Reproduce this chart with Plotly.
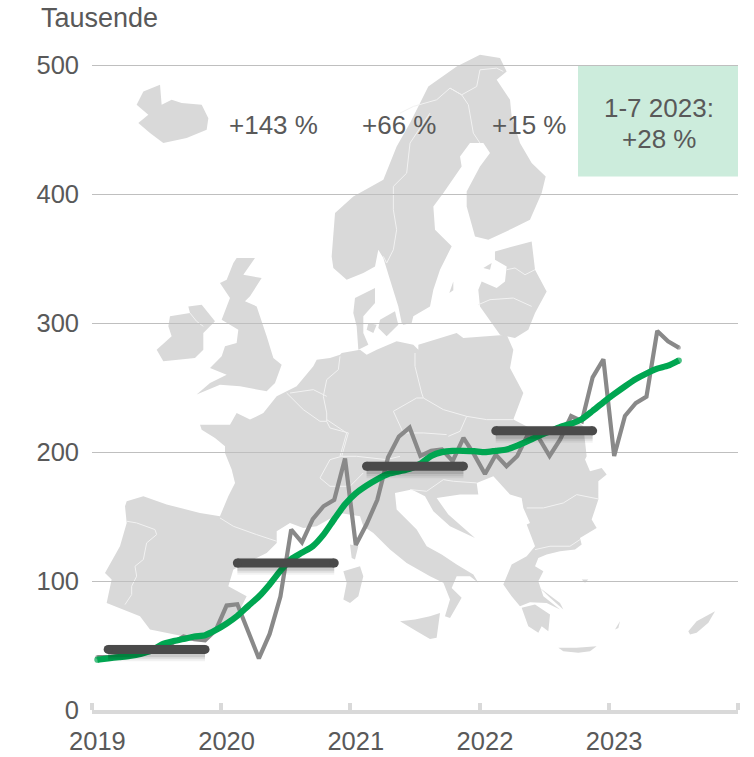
import plotly.graph_objects as go

# ---------- data ----------
year_labels = ["2019", "2020", "2021", "2022", "2023"]
year_start_index = [0, 12, 24, 36, 48]
year_edges = [-0.5, 11.5, 23.5, 35.5, 47.5, 59.5]
monthly_values = [41, 41, 42, 43, 44, 45, 47, 52, 57, 55, 54, 62,
                  81, 82, 61, 40, 59, 88, 140, 130, 148, 158, 163, 195,
                  128, 144, 163, 196, 212, 219, 197, 201, 202, 193, 211, 198,
                  183, 198, 189, 197, 214, 211, 197, 210, 228, 224, 258, 272,
                  197, 228, 238, 243, 294, 286, 281]
rolling_average = [39, 40, 41, 42, 43.5, 46, 51, 53.4, 55, 57, 58, 62,
                   67, 73, 80.6, 88, 97.4, 108, 117, 122, 127, 136, 148, 159.5,
                   168, 174, 179, 183, 185, 187, 191, 197, 200, 201, 201, 200.7,
                   200, 201, 202, 205, 208.7, 212.6, 216, 219.6, 222, 225.6, 232, 238.7,
                   245, 251, 256.6, 261, 264.7, 267, 271]
annual_average = [47, 114, 189, 216.5]
annual_centre = [5.5, 17.5, 29.5, 41.5]
change_labels = ["+143 %", "+66 %", "+15 %"]
y_ticks = [0, 100, 200, 300, 400, 500]

# ---------- page geometry ----------
W, H = 754, 757
L, R, T, B = 92, 738, 64.2, 710.5
px = lambda x: (x - L) / (R - L)
py = lambda y: (B - y) / (B - T)

# ---------- decorative map silhouette (crop coordinates: origin + z/3) ----------
Z1, Z2, Z3, Z4, Z5, Z6, Z7 = (60, 500), (400, 300), (100, 50), (400, 50), (100, 350), (330, 440), (300, 300)


def seg(o, pts):
    return [(o[0] + a / 3, o[1] + b / 3) for a, b in pts]


mainland = (
    seg(Z5, [(80, 455), (130, 440), (200, 465), (300, 490), (360, 500), (385, 440), (405, 400), (395, 360),
             (375, 310), (375, 290), (345, 265), (305, 240), (300, 225), (390, 225), (410, 190), (450, 210),
             (490, 190), (530, 140), (590, 110), (640, 50), (650, 30), (690, 25), (720, 15)])
    + seg(Z7, [(125, 160), (180, 150), (200, 165), (230, 150), (290, 125), (340, 135), (355, 150), (355, 135),
               (470, 100), (490, 115), (620, 105), (640, 150), (630, 205), (670, 280), (640, 360), (700, 390),
               (780, 380), (815, 350), (850, 380), (860, 470)])
    + seg(Z6, [(765, 60), (780, 95), (815, 85), (830, 105), (805, 125), (805, 180), (785, 240), (800, 265),
               (750, 295), (755, 315), (735, 330), (690, 335), (650, 345), (625, 355), (615, 380), (640, 395),
               (625, 425), (640, 470), (690, 510), (650, 490), (600, 488), (570, 500), (545, 470), (520, 435),
               (545, 375), (590, 350), (615, 320), (590, 255), (600, 250), (580, 205), (575, 175), (540, 165),
               (490, 110), (440, 130), (445, 165), (390, 165), (320, 175), (355, 225), (435, 295), (360, 260),
               (310, 215), (285, 170), (245, 150), (195, 160), (200, 210), (260, 270), (290, 320), (335, 345),
               (380, 375), (430, 405), (445, 430), (420, 410), (380, 410), (365, 445), (395, 475), (360, 535),
               (345, 530), (360, 480), (340, 430), (300, 410), (230, 370), (180, 330), (130, 280), (100, 260)])
    + seg(Z5, [(780, 500), (720, 490), (650, 530), (610, 535), (570, 520), (530, 545), (530, 580), (500, 610),
               (400, 660), (385, 710), (440, 740), (410, 800), (340, 845), (250, 860), (150, 840), (120, 800),
               (20, 760), (35, 690), (15, 670), (60, 590), (80, 520), (75, 470)])
)
scandinavia = (
    seg(Z3, [(740, 690), (700, 655), (695, 620), (705, 490), (760, 440), (850, 390), (890, 290), (930, 220), (985, 110)])
    + seg(Z4, [(170, 50), (240, 15), (300, 25), (320, 65), (290, 90), (330, 150), (335, 200), (360, 280), (395, 340),
               (437, 380), (425, 430), (390, 510), (340, 535), (265, 570), (225, 560), (200, 470), (200, 425),
               (240, 350), (270, 310), (250, 280), (210, 280), (180, 320), (185, 350), (130, 430), (100, 470),
               (105, 540), (155, 590), (120, 660), (100, 720), (90, 770), (40, 800), (35, 820), (10, 825)])
    + seg(Z3, [(905, 820), (895, 770), (870, 690), (850, 625), (835, 600), (825, 650), (790, 670)])
)
land = [
    mainland, scandinavia,
    seg(Z3, [(110, 165), (130, 125), (180, 105), (185, 165), (215, 150), (245, 160), (305, 165), (325, 205),
             (320, 240), (260, 265), (190, 280), (150, 250), (115, 220), (145, 195)]),
    seg(Z3, [(210, 800), (270, 790), (265, 770), (305, 765), (345, 815), (310, 850), (310, 900), (285, 925),
             (190, 935), (170, 900), (215, 860), (205, 830)]),
    seg(Z3, [(410, 625), (465, 625), (430, 675), (485, 685), (450, 740), (435, 755), (470, 770), (500, 860),
             (520, 925), (545, 945), (525, 1000), (500, 1025), (420, 1010), (360, 1005), (290, 1035), (330, 1000),
             (380, 975), (330, 955), (365, 920), (375, 890), (410, 880), (415, 840), (365, 810), (390, 745),
             (360, 700), (380, 690), (400, 640)]),
    seg(Z3, [(765, 745), (825, 715), (825, 760), (790, 800), (790, 850), (805, 885), (775, 900), (770, 830), (760, 790)]),
    seg(Z3, [(840, 810), (885, 785), (895, 825), (860, 860), (835, 835)]),
    seg(Z3, [(805, 820), (830, 825), (820, 850), (800, 840)]),
    seg(Z4, [(285, 605), (395, 575), (405, 660), (440, 725), (405, 790), (385, 840), (345, 865), (300, 855), (240, 770),
             (235, 720), (245, 695), (290, 715), (315, 695), (320, 650), (285, 630)]),
    seg(Z4, [(250, 655), (275, 640), (270, 660)]),
    seg(Z4, [(148, 730), (160, 695), (160, 722)]),
    seg(Z6, [(60, 315), (85, 320), (75, 360), (65, 355)]),
    seg(Z6, [(40, 395), (90, 380), (100, 410), (85, 470), (60, 490), (40, 480), (50, 430)]),
    seg(Z6, [(210, 545), (255, 540), (300, 530), (330, 520), (320, 595), (300, 598), (260, 575)]),
    seg(Z6, [(575, 505), (615, 495), (660, 525), (655, 575), (635, 560), (625, 580), (595, 560)]),
    seg(Z6, [(630, 445), (690, 490), (700, 510), (660, 475)]),
    seg(Z6, [(685, 625), (740, 625), (800, 620), (780, 635), (745, 640), (700, 635)]),
    seg(Z6, [(755, 420), (775, 420), (765, 430)]),
    seg(Z2, [(865, 995), (890, 965), (945, 935), (925, 970), (890, 1000), (870, 1005)]),
    seg(Z2, [(645, 990), (660, 965), (655, 985)]),
]
borders = [
    seg(Z5, [(80, 515), (110, 520), (165, 540), (170, 555), (140, 580), (130, 630), (105, 650), (110, 680), (95, 710), (95, 735), (75, 765)]),
    seg(Z5, [(360, 505), (400, 530), (470, 555), (530, 575)]),
    seg(Z5, [(560, 130), (610, 180), (660, 215), (680, 215), (690, 235), (745, 250), (725, 320), (690, 330), (660, 385), (690, 410), (750, 410), (790, 370)]),
    seg(Z5, [(720, 20), (715, 60), (680, 90), (670, 140), (680, 190), (680, 215)]),
    seg(Z5, [(570, 130), (640, 120), (680, 140)]),
    seg(Z5, [(725, 320), (770, 320), (860, 330), (900, 320)]),
    seg(Z7, [(345, 160), (345, 200), (365, 280), (370, 295)]),
    seg(Z7, [(280, 335), (350, 295), (370, 295), (430, 330), (500, 350), (480, 395), (445, 410)]),
    seg(Z7, [(280, 335), (310, 400), (370, 400), (440, 405)]),
    seg(Z7, [(500, 350), (560, 360), (640, 360)]),
    seg(Z7, [(140, 400), (120, 470)]),
    seg(Z7, [(80, 360), (140, 400)]),
    seg(Z6, [(590, 205), (640, 205), (700, 190), (740, 165), (805, 178)]),
    seg(Z6, [(615, 330), (660, 320), (720, 320), (750, 300)]),
    seg(Z6, [(240, 150), (290, 155), (340, 120), (370, 125), (440, 130)]),
    seg(Z3, [(850, 620), (860, 640), (880, 600), (890, 540), (880, 480), (880, 410), (920, 370), (930, 280), (990, 190)]),
    seg(Z4, [(0, 190), (40, 170), (110, 150), (150, 115), (185, 135), (205, 165), (220, 250), (240, 280)]),
    seg(Z4, [(150, 115), (185, 135), (230, 110), (240, 60), (290, 55), (310, 65)]),
    seg(Z4, [(320, 660), (345, 655), (375, 675), (405, 660)]),
    seg(Z4, [(235, 765), (270, 750), (340, 745), (395, 770)]),
    seg(Z3, [(270, 790), (290, 815), (310, 830)]),
]


def to_path(points, close=True):
    coords = [f"{px(x):.4f},{py(y):.4f}" for x, y in points]
    return "M" + " L".join(coords) + (" Z" if close else "")


shapes = [dict(type="path", xref="paper", yref="paper", layer="below", path=to_path(p),
               fillcolor="#D9D9D9", line=dict(width=0)) for p in land]
shapes += [dict(type="path", xref="paper", yref="paper", layer="below", path=to_path(p, False),
                fillcolor="rgba(0,0,0,0)", line=dict(color="#F2F2F2", width=1)) for p in borders]
shapes.append(dict(type="rect", xref="paper", yref="paper", layer="below",
                   x0=px(578), x1=px(738), y0=py(176.7), y1=py(65.5),
                   fillcolor="#CCECDC", line=dict(width=0)))

# ---------- figure ----------
fig = go.Figure()
x_months = list(range(len(monthly_values)))


def ends(size, n):
    return [size] + [0] * (n - 2) + [size]


fig.add_trace(go.Scatter(x=x_months, y=monthly_values, mode="lines+markers", name="Monat",
                         line=dict(color="#898989", width=4.2, shape="linear"),
                         marker=dict(color="#898989", size=ends(4.2, len(x_months)), line=dict(width=0)),
                         showlegend=False, hoverinfo="skip"))
fig.add_trace(go.Scatter(x=x_months, y=rolling_average, mode="lines+markers", name="Gleitender Durchschnitt",
                         line=dict(color="#00A651", width=6.2, shape="spline", smoothing=0.6),
                         marker=dict(color="#00A651", size=ends(6.2, len(x_months)), line=dict(width=0)),
                         showlegend=False, hoverinfo="skip"))
half = 4.5
for c, v in zip(annual_centre, annual_average):
    for w, a, dy in [(17, 0.05, -2.6), (14, 0.07, -2.2), (11, 0.10, -1.8)]:
        fig.add_trace(go.Scatter(x=[c - half, c + half], y=[v + dy, v + dy], mode="lines",
                                 line=dict(color=f"rgba(0,0,0,{a})", width=w),
                                 showlegend=False, hoverinfo="skip"))
    fig.add_trace(go.Scatter(x=[c - half, c + half], y=[v, v], mode="lines+markers",
                             line=dict(color="#4A4A4A", width=9),
                             marker=dict(color="#4A4A4A", size=9, line=dict(width=0)),
                             showlegend=False, hoverinfo="skip"))

FONT = "Liberation Sans, Arial, sans-serif"
TXT = "#595959"
ann = [dict(xref="paper", yref="paper", x=px(40), y=py(18), text="Tausende", xanchor="left", yanchor="middle",
            showarrow=False, font=dict(family=FONT, size=27, color=TXT), borderpad=0)]
for label, cx in zip(change_labels, [273, 399, 529]):
    ann.append(dict(xref="paper", yref="paper", x=px(cx), y=py(125), text=label, xanchor="center", yanchor="middle",
                    showarrow=False, font=dict(family=FONT, size=26, color=TXT), borderpad=0))
for label, ly in [("1-7 2023:", 108.5), ("+28 %", 139)]:
    ann.append(dict(xref="paper", yref="paper", x=px(658.5), y=py(ly), text=label, xanchor="center",
                    yanchor="middle", align="center", showarrow=False, font=dict(family=FONT, size=26, color=TXT), borderpad=0))

fig.update_layout(
    width=W, height=H, autosize=False,
    margin=dict(l=L, r=W - R, t=T, b=H - B),
    paper_bgcolor="white", plot_bgcolor="rgba(0,0,0,0)",
    shapes=shapes, annotations=ann, showlegend=False,
    xaxis=dict(range=[-0.5, 59.5], tickmode="array", tickvals=year_start_index, ticktext=year_labels,
               ticks="", showgrid=False, zeroline=False, showline=True, linecolor="#D9D9D9", linewidth=4, automargin=False,
               tickfont=dict(family=FONT, size=25.5, color=TXT), ticklabelstandoff=5,
               minor=dict(tickmode="array", tickvals=year_edges, ticks="inside", ticklen=7, tickwidth=4, tickcolor="#D9D9D9", showgrid=False)),
    yaxis=dict(range=[0, 501], tickmode="array", tickvals=y_ticks, ticks="", showgrid=True, gridcolor="#BFBFBF",
               gridwidth=1, zeroline=False, showline=False, automargin=False,
               tickfont=dict(family=FONT, size=25.5, color=TXT), ticklabelstandoff=12),
)
fig.write_html("out.html", config=dict(displayModeBar=False),
               post_script="document.body.style.margin='0';document.documentElement.style.overflow='hidden';")
